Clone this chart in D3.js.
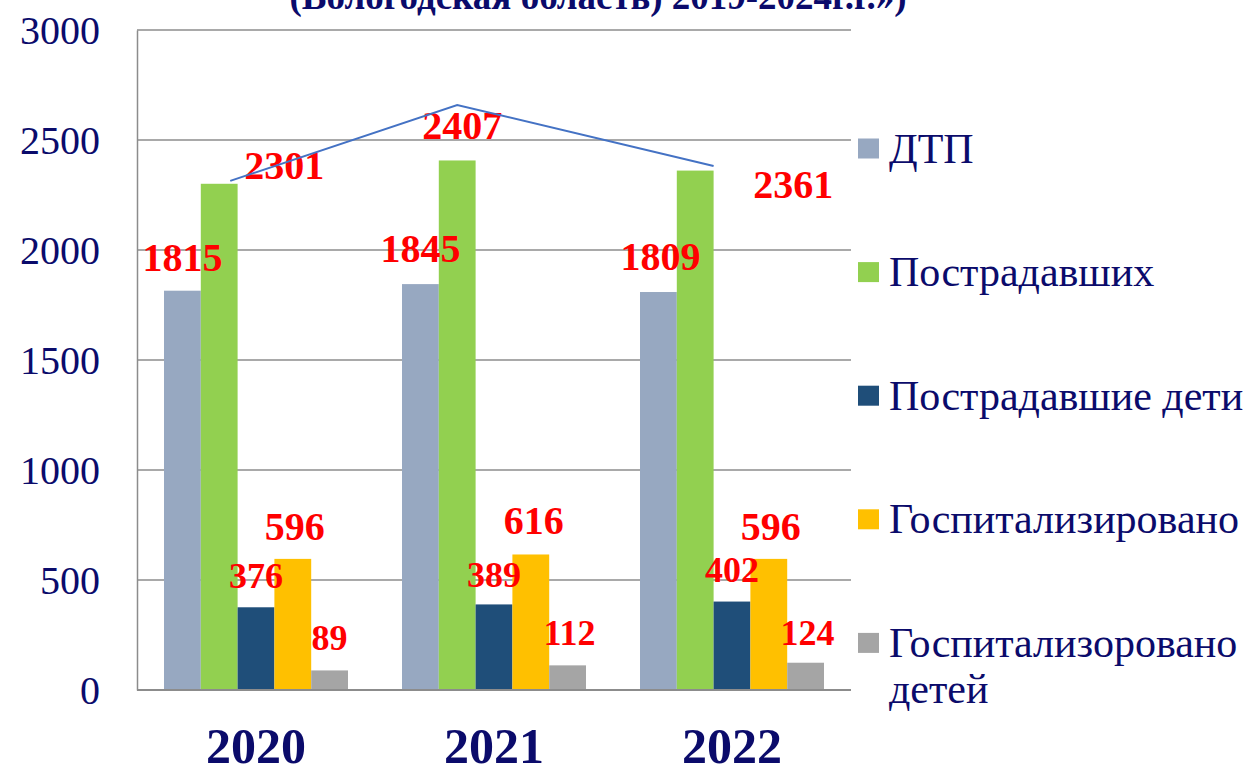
<!DOCTYPE html>
<html>
<head>
<meta charset="utf-8">
<script src="https://cdn.jsdelivr.net/npm/d3@7"></script>
<style>
    body { margin: 0; background: #ffffff; }
    text { font-family: "Liberation Serif", "Times New Roman", serif; }
</style>
</head>
<body>
<div id="chart"></div>
<script>
// Data
var years = ["2020", "2021", "2022"];
var seriesNames = ["ДТП", "Пострадавших", "Пострадавшие дети", "Госпитализировано", "Госпитализоровано детей"];
var dtp = [1815, 1845, 1809];
var injured = [2301, 2407, 2361];
var injuredKids = [376, 389, 402];
var hospitalized = [596, 616, 596];
var hospitalizedKids = [89, 112, 124];
// hand drawn blue line over the green bars
var trendValues = [2314, 2659, 2382];
var yTicks = [0, 500, 1000, 1500, 2000, 2500, 3000];
var titleText = "(Вологодская область) 2019-2024г.г.»)";

var allValues = [dtp, injured, injuredKids, hospitalized, hospitalizedKids];

// Define dimensions for svg container
var svgWidth = 1253;
var svgHeight = 773;

var margin = {
    top: 30,
    bottom: 83,
    left: 137,
    right: 402
};

var width = svgWidth - margin.left - margin.right;
var height = svgHeight - margin.top - margin.bottom;

var navy = "#0b0b6b";
var colors = ["#97a8c1", "#92d050", "#1f4e79", "#ffc000", "#a5a5a5"];

var svg = d3
    .select("#chart")
    .append("svg")
    .attr("width", svgWidth)
    .attr("height", svgHeight);

var chartGroup = svg
    .append("g")
    .attr("transform", `translate(${margin.left}, ${margin.top})`);

// Scales
var x0 = d3.scaleBand()
    .domain(years)
    .range([0, width]);

var x1 = d3.scaleBand()
    .domain(seriesNames)
    .range([27, x0.bandwidth() - 27]);

var yScale = d3.scaleLinear()
    .domain([0, 3000])
    .range([height, 0]);

// Title (cut at the top of the picture)
svg.append("text")
    .attr("x", 598)
    .attr("y", 9)
    .attr("text-anchor", "middle")
    .style("font-size", "37px")
    .style("font-weight", "bold")
    .style("fill", navy)
    .text(titleText);

// Gridlines
chartGroup.append("g")
    .selectAll("line")
    .data(yTicks.filter(d => d > 0))
    .enter()
    .append("line")
    .attr("x1", 0)
    .attr("x2", width)
    .attr("y1", d => yScale(d))
    .attr("y2", d => yScale(d))
    .style("stroke", "#8c8c8c")
    .style("stroke-width", 1.5);

// Y axis
var leftAxis = d3.axisLeft(yScale)
    .tickValues(yTicks)
    .tickFormat(d3.format("d"))
    .tickSize(0)
    .tickPadding(37);

var yAxis = chartGroup.append("g")
    .call(leftAxis);
yAxis.select(".domain")
    .style("stroke", "#8c8c8c")
    .style("stroke-width", 1.5);
yAxis.selectAll("text")
    .style("font-size", "40px")
    .style("fill", navy)
    .attr("dy", "0.34em");

// Bars
var groups = chartGroup.selectAll(".yearGroup")
    .data(years)
    .enter()
    .append("g")
    .attr("class", "yearGroup")
    .attr("transform", d => `translate(${x0(d)}, 0)`);

groups.selectAll("rect")
    .data((d, i) => seriesNames.map((s, j) => ({ series: s, idx: j, value: allValues[j][i] })))
    .enter()
    .append("rect")
    .attr("x", d => x1(d.series))
    .attr("y", d => yScale(d.value))
    .attr("width", x1.bandwidth())
    .attr("height", d => height - yScale(d.value))
    .style("fill", d => colors[d.idx]);

// X axis
var bottomAxis = d3.axisBottom(x0).tickSize(0);
var xAxis = chartGroup.append("g")
    .attr("transform", `translate(0, ${height})`)
    .call(bottomAxis);
xAxis.select(".domain")
    .attr("d", `M0,0H${width}`)
    .style("stroke", "#8c8c8c")
    .style("stroke-width", 2);
xAxis.selectAll("text")
    .attr("y", 73)
    .attr("dy", 0)
    .style("font-size", "50px")
    .style("font-weight", "bold")
    .style("fill", navy);

// Value labels, placed above bars; the green ones were moved by hand
var labelShift = [
    [[0, -20], [65, -5], [0, -19], [2, -19], [0, -20]],
    [[0, -22], [5, -21], [0, -17], [3, -20], [2, -20]],
    [[2, -22], [98, 27], [0, -20], [2, -19], [2, -18]]
];
var labelSize = ["40px", "40px", "36px", "40px", "36px"];

groups.selectAll(".valueLabel")
    .data((d, i) => seriesNames.map((s, j) => ({ series: s, idx: j, yearIdx: i, value: allValues[j][i] })))
    .enter()
    .append("text")
    .attr("class", "valueLabel")
    .attr("x", d => x1(d.series) + x1.bandwidth() / 2 + labelShift[d.yearIdx][d.idx][0])
    .attr("y", d => yScale(d.value) + labelShift[d.yearIdx][d.idx][1])
    .attr("text-anchor", "middle")
    .style("font-size", d => labelSize[d.idx])
    .style("font-weight", "bold")
    .style("fill", "#ff0000")
    .text(d => d.value);

// Blue line over the green bars
var lineFrac = [0.8, 0.5, 1.0];
var line = d3.line()
    .x((d, i) => x0(years[i]) + x1(seriesNames[1]) + x1.bandwidth() * lineFrac[i])
    .y(d => yScale(d));

chartGroup.append("path")
    .datum(trendValues)
    .attr("d", line)
    .style("fill", "none")
    .style("stroke", "#4472c4")
    .style("stroke-width", 2);

// Legend
var legendX = 858;
var legendTop = 148.5;
var legendStep = 123.6;

var legend = svg.selectAll(".legendItem")
    .data(seriesNames)
    .enter()
    .append("g")
    .attr("class", "legendItem")
    .attr("transform", (d, i) => `translate(${legendX}, ${legendTop + i * legendStep})`);

legend.append("rect")
    .attr("x", 0)
    .attr("y", -10)
    .attr("width", 21)
    .attr("height", 20)
    .style("fill", (d, i) => colors[i]);

legend.append("text")
    .attr("x", 31)
    .attr("y", 14)
    .style("font-size", "42px")
    .style("fill", navy)
    .each(function (d) {
        var parts = d === "Госпитализоровано детей" ? ["Госпитализоровано", "детей"] : [d];
        var t = d3.select(this);
        parts.forEach(function (p, k) {
            t.append("tspan")
                .attr("x", 31)
                .attr("dy", k === 0 ? 0 : 46)
                .text(p);
        });
    });
</script>
</body>
</html>
